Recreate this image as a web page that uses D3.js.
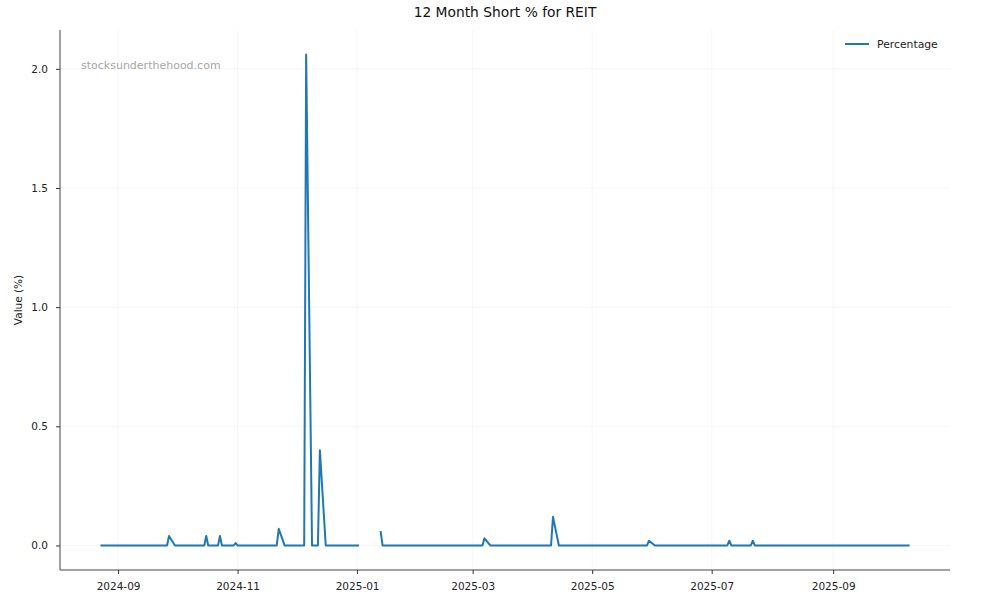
<!DOCTYPE html>
<html>
<head>
<meta charset="utf-8">
<script src="https://cdn.jsdelivr.net/npm/d3@7"></script>
<style>
  html, body { margin: 0; padding: 0; background: #fff; }
  svg { display: block; font-family: "DejaVu Sans", sans-serif; }
</style>
</head>
<body>
<svg id="chart" width="1000" height="600"></svg>
<script>
// Vertices of the series (zero runs are straight, so only the points where the line bends are kept)
const dates = [
  "2024-08-23","2024-09-26","2024-09-27","2024-09-30",
  "2024-10-15","2024-10-16","2024-10-17",
  "2024-10-22","2024-10-23","2024-10-24",
  "2024-10-30","2024-10-31","2024-11-01",
  "2024-11-21","2024-11-22","2024-11-25",
  "2024-12-05","2024-12-06","2024-12-09",
  "2024-12-12","2024-12-13","2024-12-16",
  "2025-01-02","2025-01-07",
  "2025-01-13","2025-01-14",
  "2025-03-06","2025-03-07","2025-03-10",
  "2025-04-10","2025-04-11","2025-04-14",
  "2025-05-29","2025-05-30","2025-06-02",
  "2025-07-09","2025-07-10","2025-07-11",
  "2025-07-21","2025-07-22","2025-07-23",
  "2025-10-10"
];
const percentage = [
  0, 0, 0.04, 0,
  0, 0.04, 0,
  0, 0.04, 0,
  0, 0.01, 0,
  0, 0.07, 0,
  0, 2.06, 0,
  0, 0.40, 0,
  0, null,
  0.06, 0,
  0, 0.03, 0,
  0, 0.12, 0,
  0, 0.02, 0,
  0, 0.02, 0,
  0, 0.02, 0,
  0
];
const yTicks = [0, 0.5, 1.0, 1.5, 2.0];
const title = "12 Month Short % for REIT";
const yLabel = "Value (%)";
const seriesName = "Percentage";
const watermark = "stocksunderthehood.com";

const parse = d3.utcParse("%Y-%m-%d");
const data = dates.map((d, i) => ({ date: parse(d), value: percentage[i] }));

const svg = d3.select("#chart");
const m = { left: 60, right: 50, top: 30, bottom: 30 };
const W = 1000, H = 600;

// matplotlib-style 5% margins
const xExt = d3.extent(data, d => d.date);
const xPad = (xExt[1] - xExt[0]) * 0.05;
const x = d3.scaleUtc()
  .domain([new Date(+xExt[0] - xPad), new Date(+xExt[1] + xPad)])
  .range([m.left, W - m.right]);

const vals = data.filter(d => d.value != null).map(d => d.value);
const yMin = d3.min(vals), yMax = d3.max(vals);
const yPad = (yMax - yMin) * 0.05;
const y = d3.scaleLinear()
  .domain([yMin - yPad, yMax + yPad])
  .range([H - m.bottom, m.top]);

const xTicks = x.ticks(d3.utcMonth.every(2));
const fmtX = d3.utcFormat("%Y-%m");

// grid
const grid = svg.append("g");
grid.selectAll("line.vx").data(xTicks).join("line")
  .attr("x1", d => x(d)).attr("x2", d => x(d))
  .attr("y1", m.top).attr("y2", H - m.bottom)
  .attr("stroke", "#b0b0b0").attr("stroke-opacity", 0.15).attr("stroke-width", 0.8);
grid.selectAll("line.hy").data(yTicks).join("line")
  .attr("x1", m.left).attr("x2", W - m.right)
  .attr("y1", d => y(d)).attr("y2", d => y(d))
  .attr("stroke", "#b0b0b0").attr("stroke-opacity", 0.15).attr("stroke-width", 0.8);

// axes
const xAxis = d3.axisBottom(x).tickValues(xTicks).tickFormat(fmtX).tickSize(4).tickPadding(9);
const gx = svg.append("g").attr("transform", `translate(0,${H - m.bottom})`).call(xAxis);
const yAxis = d3.axisLeft(y).tickValues(yTicks).tickFormat(d3.format(".1f")).tickSize(4).tickPadding(8);
const gy = svg.append("g").attr("transform", `translate(${m.left},0)`).call(yAxis);

[gx, gy].forEach(g => {
  g.select(".domain").attr("stroke", "#444").attr("stroke-width", 1);
  g.selectAll(".tick line").attr("stroke", "#333").attr("stroke-width", 1);
  g.selectAll(".tick text").attr("fill", "#222").style("font-size", "10.5px")
    .style("font-family", "'DejaVu Sans', sans-serif");
});
gx.select(".domain").attr("d", `M${m.left},0H${W - m.right}`);
gy.select(".domain").attr("d", `M0,${H - m.bottom}V${m.top}`);

// line
const line = d3.line()
  .defined(d => d.value != null)
  .x(d => x(d.date))
  .y(d => y(d.value));
svg.append("path").datum(data)
  .attr("fill", "none")
  .attr("stroke", "#1f77b4")
  .attr("stroke-width", 2)
  .attr("stroke-linejoin", "round")
  .attr("d", line);

// title
svg.append("text")
  .attr("x", (m.left + W - m.right) / 2).attr("y", 17)
  .attr("text-anchor", "middle")
  .attr("fill", "#111")
  .style("font-size", "13.8px")
  .text(title);

// y label
svg.append("text")
  .attr("transform", `translate(22,${(m.top + H - m.bottom) / 2}) rotate(-90)`)
  .attr("text-anchor", "middle")
  .attr("fill", "#222")
  .style("font-size", "10.5px")
  .text(yLabel);

// watermark
svg.append("text")
  .attr("x", 81).attr("y", 69)
  .attr("fill", "#999").attr("fill-opacity", 0.9)
  .style("font-size", "11px")
  .text(watermark);

// legend
const lg = svg.append("g");
lg.append("line").attr("x1", 845).attr("x2", 869).attr("y1", 44).attr("y2", 44)
  .attr("stroke", "#1f77b4").attr("stroke-width", 2);
lg.append("text").attr("x", 877).attr("y", 47.5)
  .attr("fill", "#222").style("font-size", "10.8px")
  .text(seriesName);
</script>
</body>
</html>
